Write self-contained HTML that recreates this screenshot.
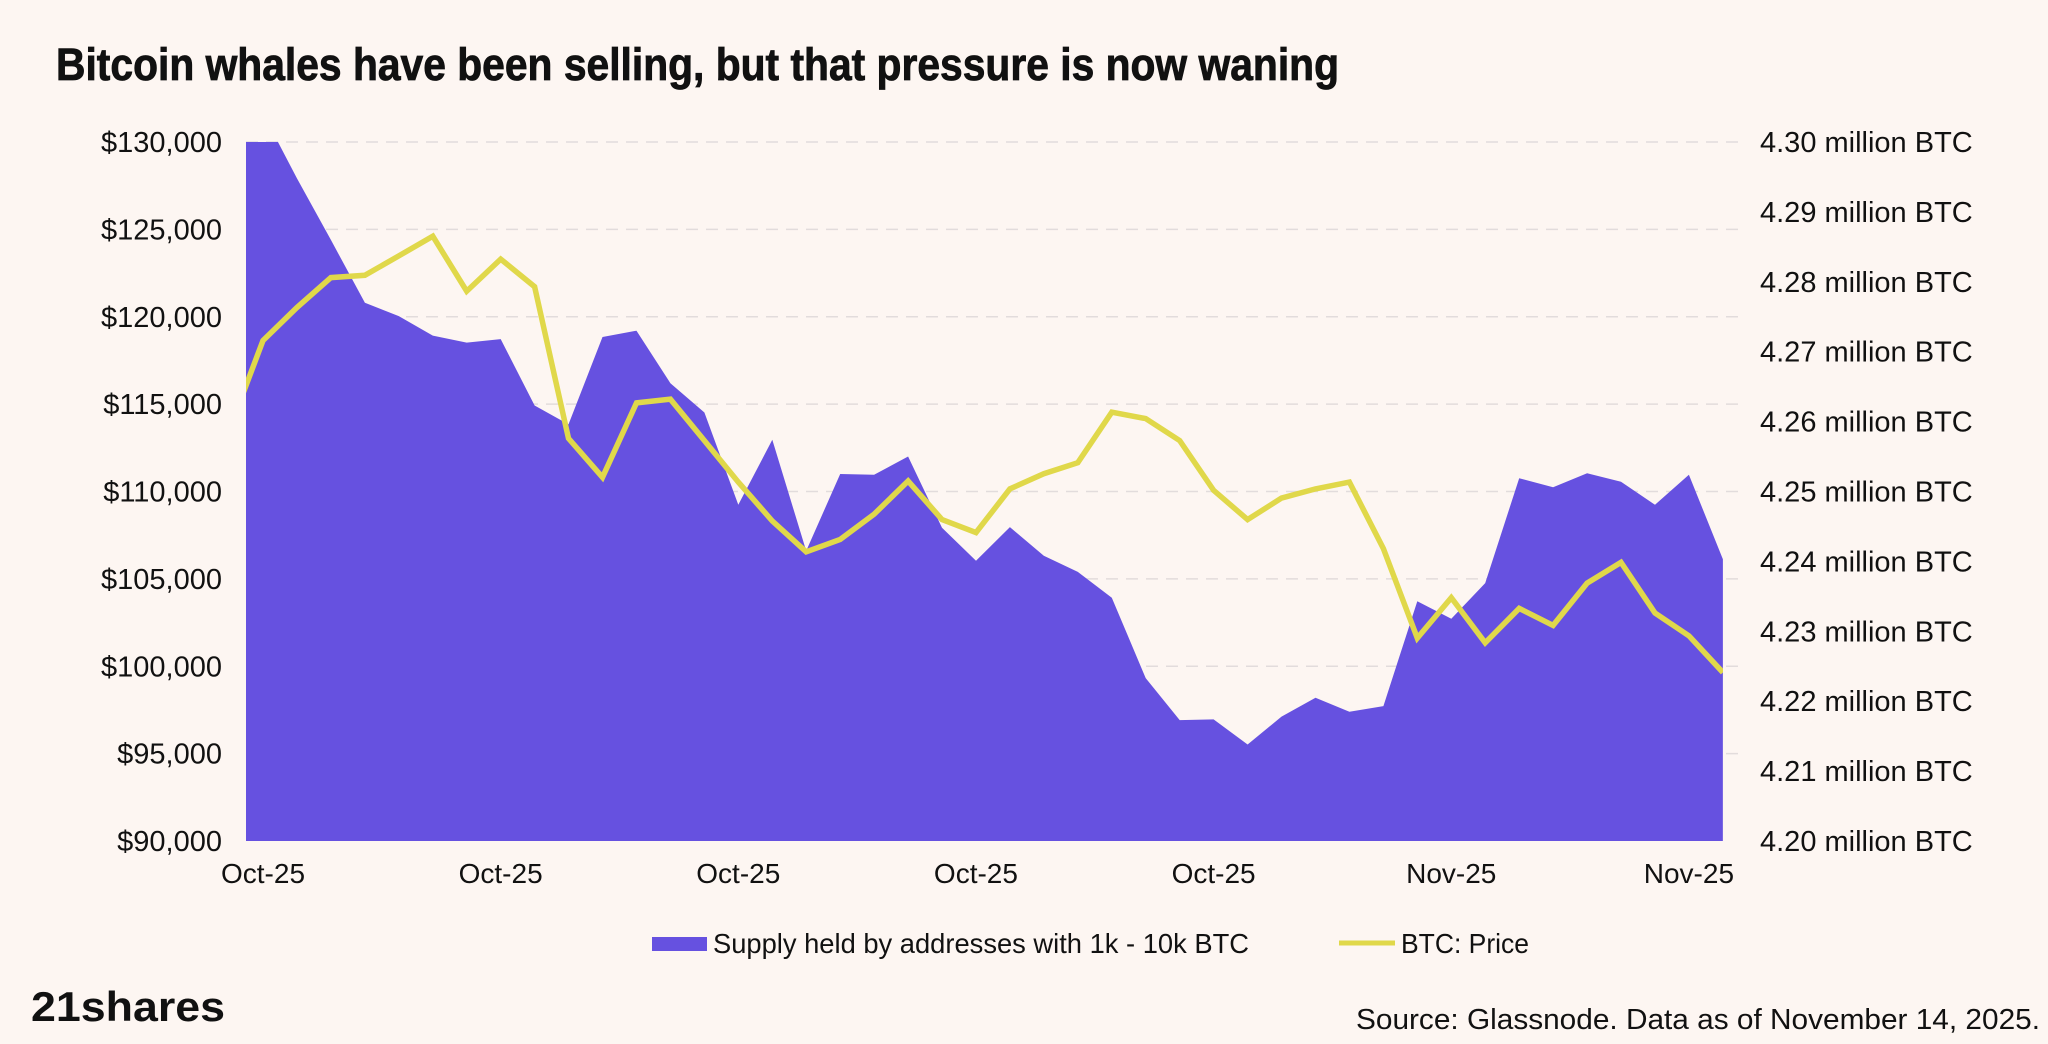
<!DOCTYPE html>
<html><head><meta charset="utf-8">
<style>
html,body{margin:0;padding:0;background:#fdf6f2;}
svg{display:block;}
text{font-family:"Liberation Sans",sans-serif;fill:#111;}
</style></head>
<body>
<svg id="chart" width="2048" height="1044" viewBox="0 0 2048 1044" xmlns="http://www.w3.org/2000/svg">
<rect x="0" y="0" width="2048" height="1044" fill="#fdf6f2"/>
<text x="56" y="80" font-size="45" font-weight="bold" textLength="1283" lengthAdjust="spacingAndGlyphs" stroke="#111" stroke-width="0.8">Bitcoin whales have been selling, but that pressure is now waning</text>
<defs><clipPath id="plotclip"><rect x="246" y="142" width="1477" height="699"/></clipPath></defs>
<g id="grid"></g>
<g id="marks" clip-path="url(#plotclip)"></g>
<g id="yleft"></g>
<g id="yright"></g>
<g id="xaxis"></g>
<g>
  <g>
    <rect x="652" y="937" width="55" height="14" fill="#6651e0"/>
    <text x="713" y="953" font-size="28" textLength="536" lengthAdjust="spacingAndGlyphs">Supply held by addresses with 1k - 10k BTC</text>
  </g>
  <g>
    <line x1="1339" y1="943" x2="1395" y2="943" stroke="#e0d84a" stroke-width="5"/>
    <text x="1401" y="953" font-size="28" textLength="128" lengthAdjust="spacingAndGlyphs">BTC: Price</text>
  </g>
</g>
<text x="31" y="1021" font-size="42" font-weight="bold" textLength="194" lengthAdjust="spacingAndGlyphs">21shares</text>
<text x="2040" y="1029" font-size="29" text-anchor="end" textLength="684" lengthAdjust="spacingAndGlyphs">Source: Glassnode. Data as of November 14, 2025.</text>
</svg>
<script>
// Data
const xLabels = ["Oct-25","Oct-25","Oct-25","Oct-25","Oct-25","Nov-25","Nov-25"];
const xLabelIdx = [0,7,14,21,28,35,42];
const priceTicks = [90000,95000,100000,105000,110000,115000,120000,125000,130000];
const supplyTicks = [4.20,4.21,4.22,4.23,4.24,4.25,4.26,4.27,4.28,4.29,4.30];
// index -1 .. 43
const price = [113500,118640,120530,122240,122370,123480,124610,121460,123300,121720,113040,110810,115070,115280,112910,110540,108310,106550,107260,108700,110600,108390,107650,110150,111020,111650,114540,114170,112910,110070,108390,109620,110150,110540,106730,101610,103920,101340,103310,102340,104760,105940,103050,101740,99640];
const supply = [4.3045,4.3041,4.2948,4.2860,4.2770,4.2751,4.2723,4.2713,4.2718,4.2623,4.2596,4.2721,4.2730,4.2655,4.2613,4.2481,4.2574,4.2415,4.2525,4.2524,4.2550,4.2448,4.2401,4.2449,4.2408,4.2385,4.2348,4.2233,4.2173,4.2174,4.2138,4.2178,4.2205,4.2185,4.2193,4.2343,4.2318,4.2369,4.2519,4.2506,4.2526,4.2514,4.2481,4.2524,4.2403];

const NS="http://www.w3.org/2000/svg";
const X0=263, DX=33.95, TOP=142, BOT=841, LEFT=246, RIGHT=1723;
function xs(k){return X0+DX*k;}
function yP(v){return TOP+(130000-v)/40000*(BOT-TOP);}
function yS(v){return TOP+(4.30-v)/0.10*(BOT-TOP);}
function mk(tag,attrs,parent){const e=document.createElementNS(NS,tag);for(const k in attrs)e.setAttribute(k,attrs[k]);parent.appendChild(e);return e;}
const grid=document.getElementById('grid'),marks=document.getElementById('marks'),yl=document.getElementById('yleft'),yr=document.getElementById('yright'),xa=document.getElementById('xaxis');

priceTicks.forEach(v=>{
  const y=yP(v);
  if(v>90000){
    const g=mk('line',{x1:LEFT,x2:1740,y1:y,y2:y,stroke:'#e2dcdc','stroke-width':1.5,'stroke-dasharray':'12 8'},grid);
    
    
  }
  const t=mk('text',{x:222,y:y+10,'font-size':29,'text-anchor':'end'},yl);
  t.textContent='$'+v.toLocaleString('en-US');
  
  
});
supplyTicks.forEach(v=>{
  const t=mk('text',{x:1760,y:yS(v)+10,'font-size':29},yr);
  t.textContent=v.toFixed(2)+' million BTC';
  
  
});
xLabelIdx.forEach((k,i)=>{
  const t=mk('text',{x:xs(k),y:883,'font-size':28,'text-anchor':'middle'},xa);
  t.textContent=xLabels[i];
  
  
});

let d='M'+xs(-1)+','+BOT;
supply.forEach((v,i)=>{d+=' L'+xs(i-1).toFixed(1)+','+yS(v).toFixed(1);});
d+=' L'+xs(supply.length-2)+','+BOT+' Z';
const area=mk('path',{d:d,fill:'#6651e0'},marks);



let p='';
price.forEach((v,i)=>{p+=(i?' L':'M')+xs(i-1).toFixed(1)+','+yP(v).toFixed(1);});
const line=mk('path',{d:p,fill:'none',stroke:'#e0d84a','stroke-width':5.5,'stroke-linejoin':'miter'},marks);


</script>
</body></html>
